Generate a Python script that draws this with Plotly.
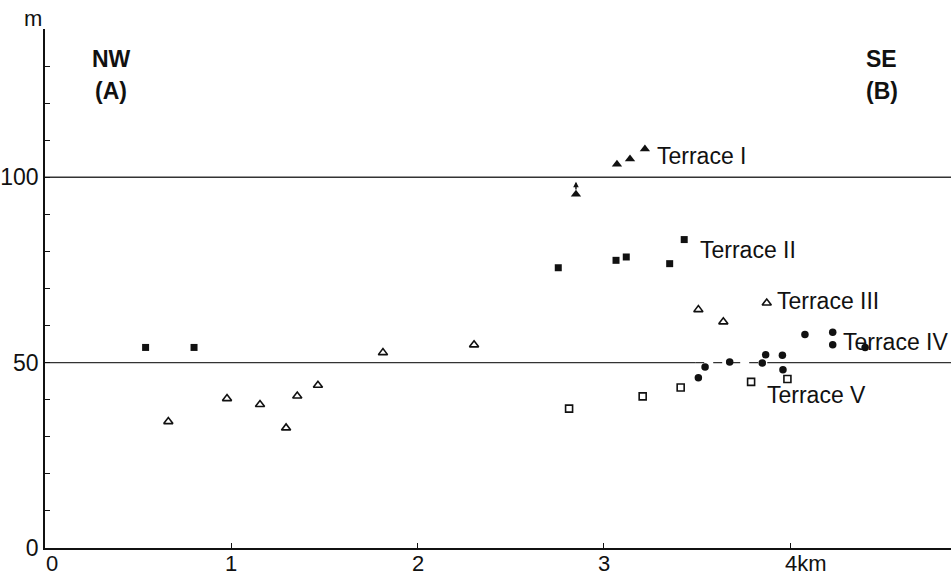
import plotly.graph_objects as go

# ---- data (distance km, elevation m) ----
t1_x = [3.07, 3.14, 3.22]
t1_y = [103.5, 104.9, 107.6]
t1_low_x = [2.85]
t1_low_y = [95.4]

t2_x = [0.54, 0.80, 2.755, 3.065, 3.12, 3.353, 3.431]
t2_y = [54.1, 54.1, 75.6, 77.6, 78.5, 76.7, 83.2]

t3_x = [0.662, 0.977, 1.154, 1.294, 1.354, 1.465, 1.814, 2.303, 3.507, 3.641, 3.874]
t3_y = [34.1, 40.3, 38.7, 32.4, 41.0, 43.9, 52.7, 54.8, 64.3, 61.0, 66.1]

t4_x = [3.507, 3.543, 3.675, 3.850, 3.868, 3.958, 3.961, 4.079, 4.228, 4.228, 4.402]
t4_y = [45.9, 48.8, 50.2, 49.9, 52.1, 52.0, 48.1, 57.6, 58.2, 54.8, 54.1]

t5_x = [2.813, 3.208, 3.412, 3.790, 3.985]
t5_y = [37.6, 40.9, 43.3, 44.8, 45.6]

ref_levels = [50, 100]
x_ticks = [0, 1, 2, 3, 4]
x_tick_labels = ["0", "1", "2", "3", "4km"]
y_ticks = [0, 50, 100]
y_tick_labels = ["0", "50", "100"]

labels = ["Terrace I", "Terrace II", "Terrace III", "Terrace IV", "Terrace V"]
label_x = [3.275, 3.506, 3.919, 4.273, 3.865]
label_y = [105.7, 80.5, 66.5, 55.7, 41.4]

X_MAX = 4.863
Y_MAX = 140

FONT = "Liberation Sans, Arial, sans-serif"
INK = "#111111"

fig = go.Figure()

fig.add_trace(go.Scatter(x=t1_x + t1_low_x, y=t1_y + t1_low_y, mode="markers",
                         marker=dict(symbol="triangle-up", size=9, color=INK)))
fig.add_trace(go.Scatter(x=t2_x, y=t2_y, mode="markers",
                         marker=dict(symbol="square", size=7, color=INK)))
fig.add_trace(go.Scatter(x=t3_x, y=t3_y, mode="markers",
                         marker=dict(symbol="triangle-up-open", size=8, color=INK,
                                     line=dict(width=1.6, color=INK))))
fig.add_trace(go.Scatter(x=t4_x, y=t4_y, mode="markers",
                         marker=dict(symbol="circle", size=7.5, color=INK)))
fig.add_trace(go.Scatter(x=t5_x, y=t5_y, mode="markers",
                         marker=dict(symbol="square-open", size=7, color=INK,
                                     line=dict(width=1.6, color=INK))))

shapes = []
shapes.append(dict(type="line", xref="x", yref="y", x0=0, x1=X_MAX,
                   y0=ref_levels[1], y1=ref_levels[1],
                   line=dict(color="#333", width=1.4), layer="below"))
shapes.append(dict(type="line", xref="x", yref="y", x0=0, x1=3.49,
                   y0=ref_levels[0], y1=ref_levels[0],
                   line=dict(color="#333", width=1.4), layer="below"))
shapes.append(dict(type="line", xref="x", yref="y", x0=3.49, x1=3.88,
                   y0=ref_levels[0], y1=ref_levels[0],
                   line=dict(color="#333", width=1.4, dash="dash"), layer="below"))
shapes.append(dict(type="line", xref="x", yref="y", x0=3.88, x1=X_MAX,
                   y0=ref_levels[0], y1=ref_levels[0],
                   line=dict(color="#333", width=1.4), layer="below"))
fig.update_layout(shapes=shapes)

ann = []
for t, lx, ly in zip(labels, label_x, label_y):
    ann.append(dict(x=lx, y=ly, xref="x", yref="y", text=t, showarrow=False,
                    xanchor="left", yanchor="middle",
                    font=dict(family=FONT, size=23, color=INK)))
# arrow above low terrace I point
ann.append(dict(x=t1_low_x[0], y=98.8, ax=t1_low_x[0], ay=96.3, xref="x", yref="y",
                axref="x", ayref="y", text="", showarrow=True, arrowhead=2,
                arrowsize=0.8, arrowwidth=1.4, arrowcolor=INK))
# direction labels
for txt, dx, dy in [("<b>NW</b>", 0.355, 131.9), ("<b>(A)</b>", 0.355, 123.2),
                    ("<b>SE</b>", 4.49, 131.9), ("<b>(B)</b>", 4.49, 123.2)]:
    ann.append(dict(x=dx, y=dy, xref="x", yref="y", text=txt, showarrow=False,
                    font=dict(family=FONT, size=23, color=INK)))
# axis unit label
ann.append(dict(x=0, y=Y_MAX, xref="x", yref="y", text="m", showarrow=False,
                xanchor="right", yanchor="bottom", xshift=-1, yshift=-4,
                font=dict(family=FONT, size=22, color=INK)))
# x tick labels (placed on the x scale)
for i, (tv, tt) in enumerate(zip(x_ticks, x_tick_labels)):
    anchor = "center"
    shift = 0
    if i == 0:
        anchor, shift = "left", -1
    elif i == len(x_ticks) - 1:
        anchor, shift = "left", -7
    ann.append(dict(x=tv, y=0, xref="x", yref="y", text=tt, showarrow=False,
                    xanchor=anchor, yanchor="top", xshift=shift, yshift=-1,
                    font=dict(family=FONT, size=22, color=INK)))
fig.update_layout(annotations=ann)

fig.update_layout(
    width=951, height=575,
    margin=dict(l=45, r=0, t=29, b=27),
    paper_bgcolor="white", plot_bgcolor="white",
    showlegend=False,
    font=dict(family=FONT, color=INK),
    xaxis=dict(range=[0, X_MAX], showgrid=False, zeroline=False, automargin=False,
               showline=True, linecolor=INK, linewidth=1.6,
               tickmode="array", tickvals=x_ticks, showticklabels=False,
               ticks="inside", ticklen=5, tickwidth=1.4, tickcolor=INK),
    yaxis=dict(range=[0, Y_MAX], showgrid=False, zeroline=False, automargin=False,
               showline=True, linecolor=INK, linewidth=1.6,
               tickmode="array", tickvals=y_ticks, ticktext=y_tick_labels,
               ticks="", tickfont=dict(family=FONT, size=23, color=INK),
               minor=dict(tickvals=list(range(10, 140, 10)), ticks="inside",
                          ticklen=5, tickwidth=1.2, tickcolor=INK)),
)

fig.write_html("out.html", config={"displayModeBar": False},
               post_script="document.body.style.margin='0';")
